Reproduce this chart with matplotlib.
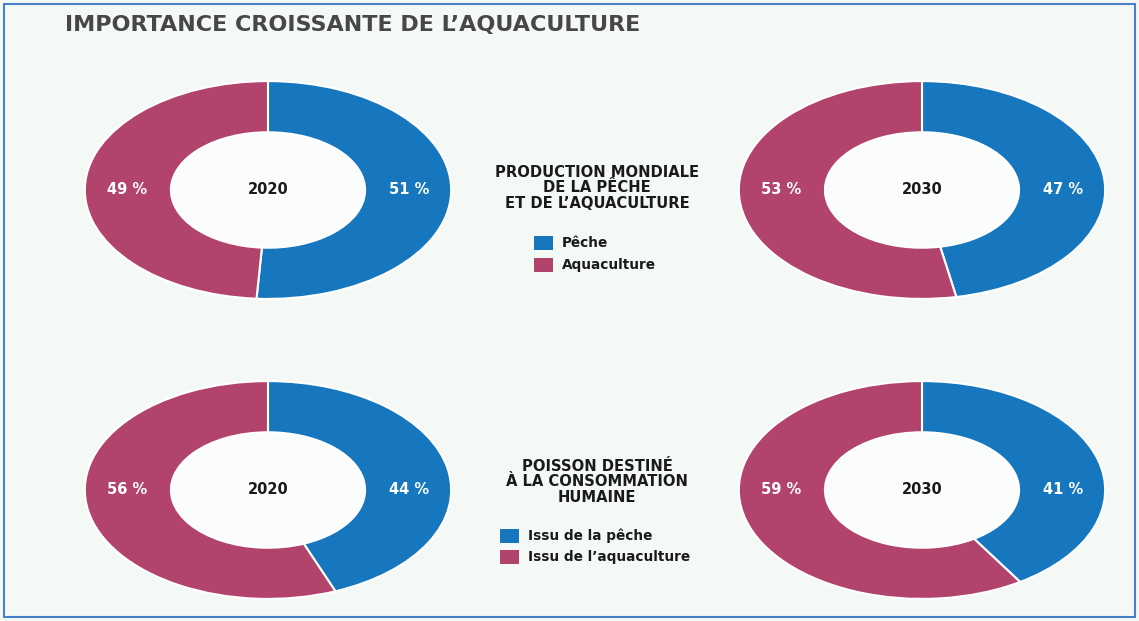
import matplotlib.pyplot as plt
from matplotlib.patches import Rectangle, Ellipse

# data
years = ['2020', '2030']
production_peche = [51, 47]
production_aqua = [49, 53]
conso_peche = [44, 41]
conso_aqua = [56, 59]

title = "IMPORTANCE CROISSANTE DE L\u2019AQUACULTURE"
legend_titles = ["PRODUCTION MONDIALE\nDE LA P\u00CACHE\nET DE L\u2019AQUACULTURE",
                 "POISSON DESTIN\u00C9\n\u00C0 LA CONSOMMATION\nHUMAINE"]
legend_labels = [["P\u00EAche", "Aquaculture"],
                 ["Issu de la p\u00EAche", "Issu de l\u2019aquaculture"]]

blue = '#1677be'
magenta = '#b1436c'
bg = '#f4f9f6'

plt.rcParams['font.family'] = ['DejaVu Sans']

W, H = 1139, 621
fig = plt.figure(figsize=(W / 100, H / 100), dpi=100, facecolor=bg)

# blue border
fig.patches.append(Rectangle((4 / W, 4 / H), 1 - 8 / W, 1 - 8 / H, transform=fig.transFigure,
                             fill=False, edgecolor='#4a80c8', linewidth=1.5))

fig.text(65 / W, 1 - 25 / H, title, fontsize=16, fontweight='bold', color='#474747',
         va='center', ha='left')


def donut(cx, cy, peche, aqua, year):
    rx, ry = 185, 110
    ax = fig.add_axes([(cx - rx) / W, 1 - (cy + ry) / H, 2 * rx / W, 2 * ry / H])
    ax.add_patch(Ellipse((0, 0), 1.1, 1.1, facecolor='#fbfdfc', edgecolor='none'))
    ax.pie([peche, aqua], colors=[blue, magenta], startangle=90, counterclock=False,
           radius=1, wedgeprops=dict(width=0.47, edgecolor='white', linewidth=1.5))
    ax.set_aspect('auto')
    ax.set_xlim(-1.01, 1.01)
    ax.set_ylim(-1.01, 1.01)
    ax.axis('off')
    ax.text(0, 0, year, ha='center', va='center', fontsize=10.5, fontweight='bold', color='#1a1a1a')
    ax.text(0.77, 0, f'{peche} %', ha='center', va='center', fontsize=10.5,
            fontweight='bold', color='white')
    ax.text(-0.77, 0, f'{aqua} %', ha='center', va='center', fontsize=10.5,
            fontweight='bold', color='white')


for i, y in enumerate(years):
    cx = 268 if i == 0 else 922
    donut(cx, 190, production_peche[i], production_aqua[i], y)
    donut(cx, 490, conso_peche[i], conso_aqua[i], y)


# legends in the middle
def legend(title_y, tx, items_y, sq_x, text_x, txt, labels):
    fig.text(tx / W, 1 - title_y / H, txt, ha='center', va='center', fontsize=10.6,
             fontweight='bold', color='#1a1a1a', linespacing=1.03)
    for y, lab, c in zip(items_y, labels, [blue, magenta]):
        fig.patches.append(Rectangle((sq_x / W, 1 - (y + 7) / H), 19 / W, 14 / H,
                                     transform=fig.transFigure, facecolor=c, edgecolor='none'))
        fig.text(text_x / W, 1 - y / H, lab, ha='left', va='center', fontsize=9.8,
                 color='#1a1a1a', fontweight='semibold')


legend(188, 597, [243, 265], 534, 562, legend_titles[0], legend_labels[0])
legend(482, 597, [536, 557], 500, 528, legend_titles[1], legend_labels[1])

fig.savefig('out.png', dpi=100, facecolor=bg)
